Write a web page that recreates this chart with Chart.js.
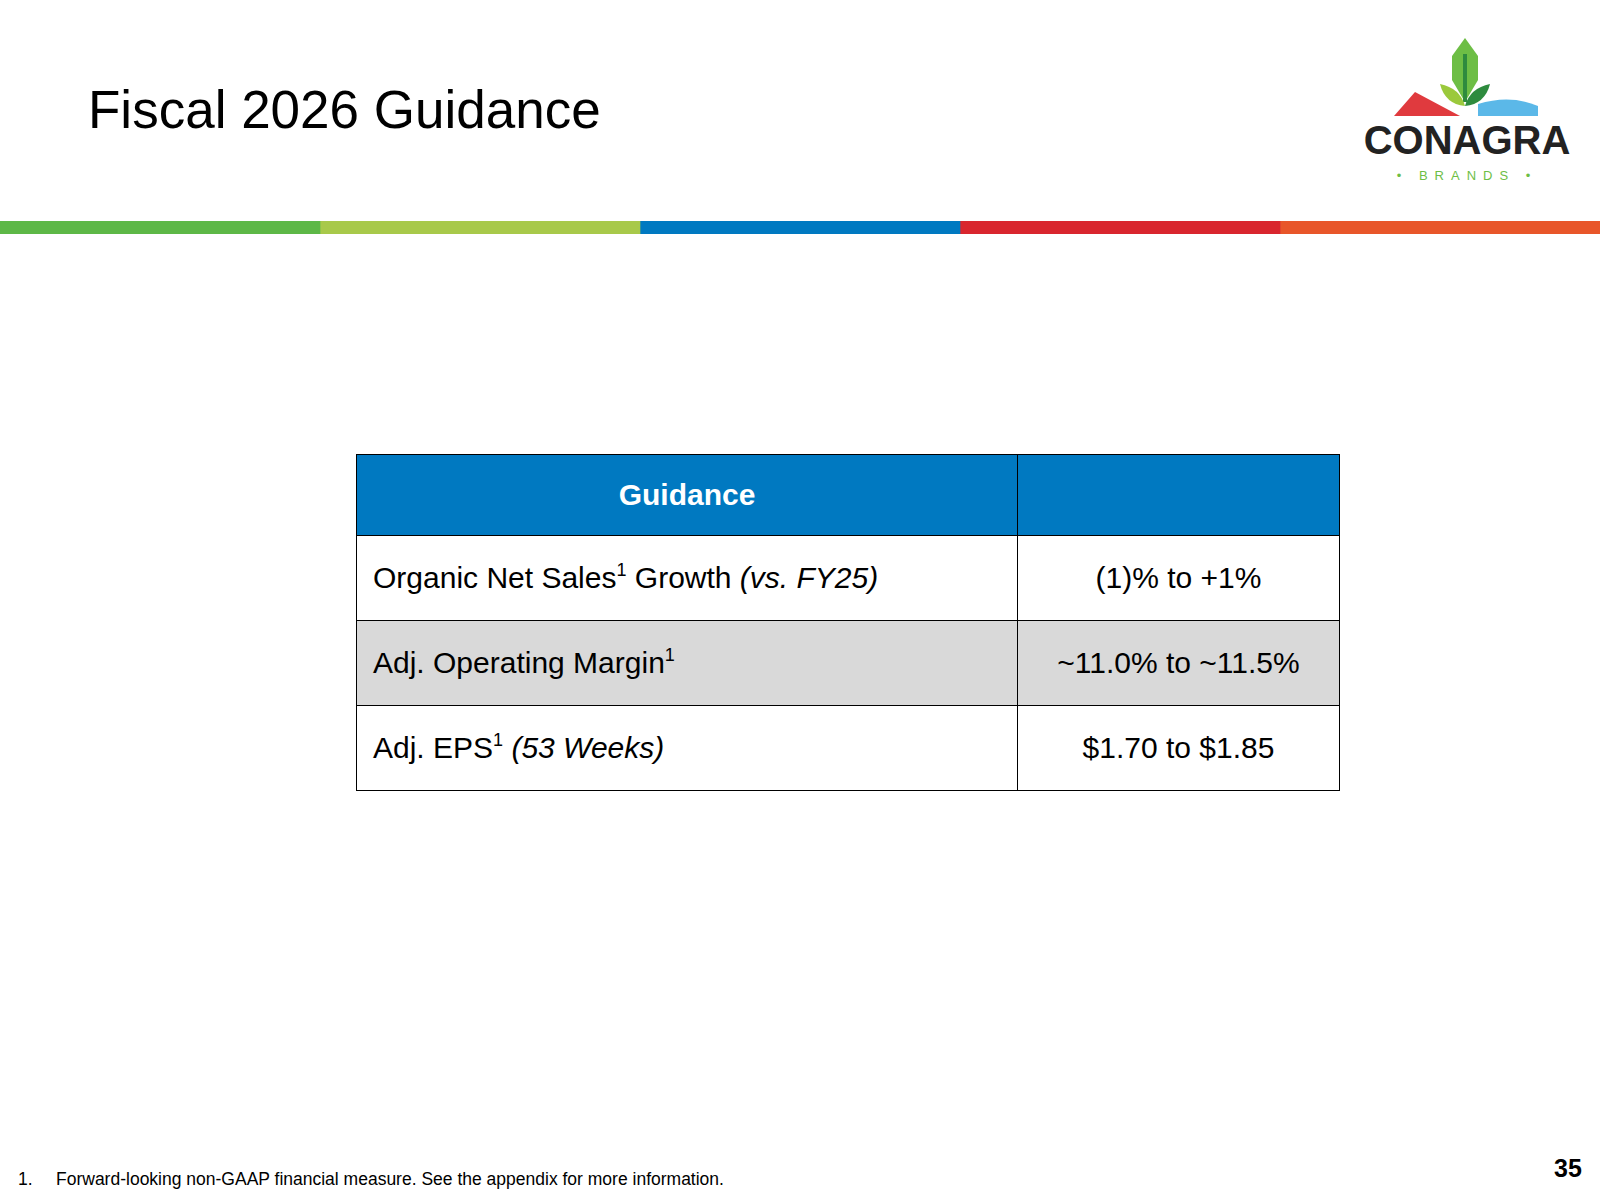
<!DOCTYPE html>
<html><head><meta charset="utf-8">
<script src="https://cdn.jsdelivr.net/npm/chart.js@4"></script>
<style>
body{margin:0;width:1600px;height:1200px;background:#fff;font-family:Arial,"Liberation Sans",sans-serif;position:relative;overflow:hidden}
#title{position:absolute;left:88px;top:79px;font-size:53px;color:#000}
#stripeWrap{position:absolute;left:0;top:221px;width:1600px;height:13px}
table{position:absolute;left:356px;top:454px;width:984px;border-collapse:collapse;font-size:30px}
td,th{border:1.5px solid #000;padding:0}
th{background:#0079C1;color:#fff;height:80px;font-weight:bold;font-size:30px}
td{height:84px}
td.l{padding-left:16px;width:644px}
td.r{text-align:center}
tr.g td{background:#D9D9D9;border-top:none;border-bottom:none}
sup{font-size:18px;vertical-align:12px;line-height:0}
#foot{position:absolute;left:18px;top:1169px;font-size:17.5px}
#foot span{display:inline-block;width:38px}
#pg{position:absolute;left:1554px;top:1154px;font-size:25px;font-weight:bold}
#logo{position:absolute;left:1360px;top:34px}
</style></head><body>
<div id="title">Fiscal 2026 Guidance</div>
<svg id="logo" width="215" height="150" viewBox="0 0 215 150">
 <path d="M105 4 L92 22 L92 46 L105 68 L118 46 L118 22Z" fill="#6DBE45"/>
 <path d="M105 20 L105 68" stroke="#2E8B3E" stroke-width="4"/>
 <path d="M80 50 Q85 70 105 72 Q100 54 80 50Z" fill="#9BC93C"/>
 <path d="M130 50 Q125 70 105 72 Q110 54 130 50Z" fill="#2E8B3E"/>
 <path d="M34 82 L55 58 L100 82Z" fill="#E03A3E"/>
 <path d="M118 70 Q150 60 178 72 L178 82 L118 82Z" fill="#5BB8E8"/>
 <text x="107" y="120" font-size="40" font-weight="bold" text-anchor="middle" fill="#222" font-family="Liberation Sans,Arial">CONAGRA</text>
 <text x="107" y="146" font-size="13" text-anchor="middle" fill="#6DBE45" letter-spacing="7" font-family="Liberation Sans,Arial">• BRANDS •</text>
</svg>
<div id="stripeWrap"><canvas id="stripe"></canvas></div>
<table>
<tr><th>Guidance</th><th></th></tr>
<tr><td class="l">Organic Net Sales<sup>1</sup> Growth <i>(vs. FY25)</i></td><td class="r">(1)% to +1%</td></tr>
<tr class="g"><td class="l">Adj. Operating Margin<sup>1</sup></td><td class="r">~11.0% to ~11.5%</td></tr>
<tr><td class="l">Adj. EPS<sup>1</sup> <i>(53 Weeks)</i></td><td class="r">$1.70 to $1.85</td></tr>
</table>
<div id="foot"><span>1.</span>Forward-looking non-GAAP financial measure. See the appendix for more information.</div>
<div id="pg">35</div>
<script>
const stripeSegments=[1,1,1,1,1];
const stripeColors=['#5DB847','#A8C94A','#0079C1','#D9262E','#E8562A'];
new Chart(document.getElementById('stripe'),{
 type:'bar',
 data:{labels:[''],datasets:stripeSegments.map((v,i)=>({data:[v],backgroundColor:stripeColors[i],borderWidth:0,barPercentage:1,categoryPercentage:1}))},
 options:{indexAxis:'y',responsive:true,maintainAspectRatio:false,animation:false,
  layout:{padding:0},
  plugins:{legend:{display:false},tooltip:{enabled:false}},
  scales:{x:{stacked:true,display:false,min:0,max:5,grace:0},y:{stacked:true,display:false}}}
});
</script>
</body></html>
